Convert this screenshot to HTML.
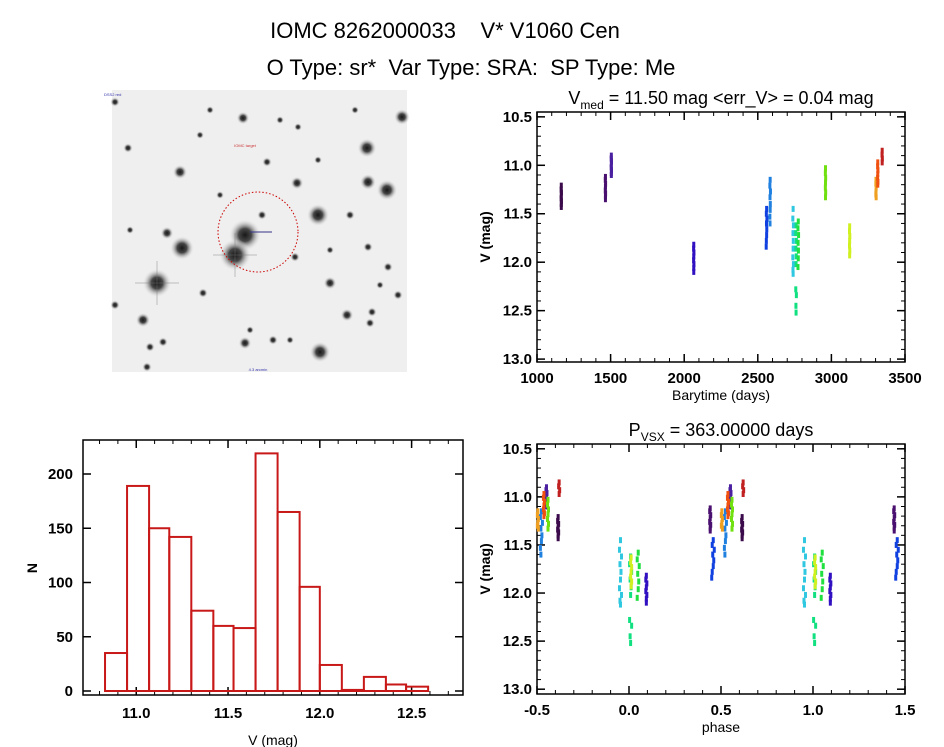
<!DOCTYPE html>
<html><head><meta charset="utf-8"><style>
html,body{margin:0;padding:0;background:#fff;}
svg{display:block;font-family:"Liberation Sans",sans-serif;}
</style></head><body>
<svg id="fig" width="944" height="747" viewBox="0 0 944 747" xmlns="http://www.w3.org/2000/svg">
<text x="445" y="38" font-size="22" text-anchor="middle" xml:space="preserve">IOMC 8262000033    V* V1060 Cen</text>
<text x="471" y="75" font-size="22" text-anchor="middle" xml:space="preserve">O Type: sr*  Var Type: SRA:  SP Type: Me</text>
<g id="sky">
<defs><radialGradient id="st"><stop offset="0" stop-color="#000"/><stop offset="0.4" stop-color="#333"/><stop offset="1" stop-color="#eee" stop-opacity="0"/></radialGradient></defs>
<rect x="112" y="90" width="295" height="282" fill="#efefef"/>
</g>
<g id="lc"></g>
<g id="ph"></g>
<g id="hist"></g>
</svg>
<script>
const groupColors=['#3a0a4a','#4a1070','#4a20a0','#3010c0','#1040e0','#2080e0','#30c8e0','#10e080','#20e040','#70e010','#d0f020','#f0a020','#f05010','#c02020'];
const obsTimes=[
[1165,1164,1166,1165,1164,1166,1165,1165],
[1465,1464,1466,1465,1464,1466,1465,1465],
[1505,1504,1506,1505,1504,1506,1505,1505],
[2065,2064,2066,2065,2064,2066,2065,2065],
[2560,2558,2562,2559,2561,2560,2558,2557],
[2584,2582,2586,2583,2585,2584,2582,2583],
[2740,2738,2742,2739,2741,2740,2738,2742,2739,2740],
[2760,2758,2762,2759,2761,2760,2758,2762,2759,2760],
[2775,2773,2777,2774,2776,2775,2773],
[2960,2959,2961,2960,2959,2961,2960],
[3124,3123,3125,3124,3123,3125,3124],
[3303,3302,3304,3303,3302,3304],
[3315,3314,3316,3315,3314,3316,3315],
[3345,3344,3346,3345]];
const obsMags=[
[11.21,11.25,11.28,11.31,11.34,11.37,11.40,11.43],
[11.12,11.15,11.19,11.22,11.26,11.29,11.32,11.35],
[10.90,10.93,10.96,10.99,11.02,11.05,11.08,11.10],
[11.82,11.86,11.90,11.94,11.98,12.02,12.06,12.10],
[11.45,11.50,11.55,11.60,11.66,11.72,11.78,11.84],
[11.15,11.21,11.27,11.33,11.40,11.46,11.53,11.60],
[11.45,11.55,11.62,11.70,11.78,11.86,11.95,12.02,12.08,12.12],
[11.62,11.70,11.78,11.86,11.94,12.02,12.28,12.34,12.45,12.52],
[11.58,11.65,11.72,11.80,11.88,11.96,12.05],
[11.03,11.08,11.13,11.18,11.23,11.28,11.33],
[11.63,11.68,11.73,11.78,11.83,11.88,11.93],
[11.15,11.19,11.23,11.27,11.30,11.33],
[10.97,11.01,11.05,11.09,11.13,11.17,11.20],
[10.85,10.89,10.93,10.97]];
const period=363.0, epoch=941.8;
const timeTicks=[1000,1500,2000,2500,3000,3500];
const magTicks=[10.5,11.0,11.5,12.0,12.5,13.0];
const phaseTicks=[-0.5,0.0,0.5,1.0,1.5];
const histEdges=[10.83,10.95,11.07,11.18,11.30,11.42,11.53,11.65,11.77,11.89,12.00,12.12,12.24,12.36,12.47,12.59];
const histCounts=[35,189,150,142,74,60,58,219,165,96,24,1,13,6,4];
const histXTicks=[11.0,11.5,12.0,12.5];
const histYTicks=[0,50,100,150,200];
const stars=[[115,102,3],[243,118,4],[402,117,5],[367,148,6],[128,148,3],[180,172,4.5],[297,183,4],[368,182,5],[387,190,6.5],[267,162,3],[318,215,7],[350,215,3],[262,215,3],[245,235,10],[235,255,10],[182,248,7.5],[167,233,4],[157,283,9],[295,257,3],[330,283,4],[388,267,3],[203,293,3],[143,320,4.5],[347,315,4],[372,312,3],[370,323,3],[150,347,3],[163,342,3],[245,343,4],[320,352,6.5],[147,367,3],[368,247,3],[398,295,3],[273,340,3],[115,305,3],[280,120,2.5],[298,127,2.5],[200,135,2.5],[318,160,2.5],[220,195,2.5],[330,250,2.5],[380,285,2.5],[250,330,2.5],[290,340,2.5],[130,230,2.5],[210,110,2.5],[355,110,2.5]];
const NS='http://www.w3.org/2000/svg';
function mk(tag,at,parent){const e=document.createElementNS(NS,tag);for(const k in at)e.setAttribute(k,at[k]);parent.appendChild(e);return e;}
const sky=document.getElementById('sky');
stars.forEach(s=>{const c=mk('circle',{cx:s[0],cy:s[1],r:s[2]*1.6,fill:'url(#st)',opacity:0.9},sky);

});
[[157,283],[235,255]].forEach(p=>{mk('line',{x1:p[0]-22,y1:p[1],x2:p[0]+22,y2:p[1],stroke:'#777','stroke-width':1,opacity:0.4},sky);mk('line',{x1:p[0],y1:p[1]-22,x2:p[0],y2:p[1]+22,stroke:'#777','stroke-width':1,opacity:0.4},sky);});
const circ=mk('circle',{cx:258,cy:232,r:40,fill:'none',stroke:'#c00','stroke-width':1,'stroke-dasharray':'1.5 2'},sky);


mk('line',{x1:250,y1:232,x2:272,y2:232,stroke:'#338','stroke-width':1},sky);
const lbl=mk('text',{x:245,y:147,'font-size':4,fill:'#c33','text-anchor':'middle'},sky);lbl.textContent='IOMC target';
const lbl2=mk('text',{x:104,y:96,'font-size':4,fill:'#33a'},sky);lbl2.textContent='DSS2 red';
const lbl3=mk('text',{x:258,y:371,'font-size':4,fill:'#33a','text-anchor':'middle'},sky);lbl3.textContent='4.3 arcmin';

function axes(g,box,xd,yd,xt,yt,xminor,yminor,xfmt,yfmt,xlabel,ylabel,ylabX){
  const sx=v=>box.l+(v-xd[0])/(xd[1]-xd[0])*(box.r-box.l);
  const sy=v=>box.t+(v-yd[0])/(yd[1]-yd[0])*(box.b-box.t);
  mk('rect',{x:box.l,y:box.t,width:box.r-box.l,height:box.b-box.t,fill:'none',stroke:'#000','stroke-width':1.5},g);
  xt.forEach(v=>{const x=sx(v);mk('line',{x1:x,y1:box.b,x2:x,y2:box.b-8,stroke:'#000','stroke-width':1.5},g);mk('line',{x1:x,y1:box.t,x2:x,y2:box.t+8,stroke:'#000','stroke-width':1.5},g);
    const t=mk('text',{x:x,y:box.b+21,'font-size':15,'text-anchor':'middle','font-weight':'bold'},g);t.textContent=xfmt(v);
    
    });
  xminor.forEach(v=>{const x=sx(v);mk('line',{x1:x,y1:box.b,x2:x,y2:box.b-4,stroke:'#000'},g);mk('line',{x1:x,y1:box.t,x2:x,y2:box.t+4,stroke:'#000'},g);});
  yt.forEach(v=>{const y=sy(v);mk('line',{x1:box.l,y1:y,x2:box.l+8,y2:y,stroke:'#000','stroke-width':1.5},g);mk('line',{x1:box.r,y1:y,x2:box.r-8,y2:y,stroke:'#000','stroke-width':1.5},g);
    const t=mk('text',{x:box.l-5,y:y+5,'font-size':15,'text-anchor':'end','font-weight':'bold'},g);t.textContent=yfmt(v);
    
    });
  yminor.forEach(v=>{const y=sy(v);mk('line',{x1:box.l,y1:y,x2:box.l+4,y2:y,stroke:'#000'},g);mk('line',{x1:box.r,y1:y,x2:box.r-4,y2:y,stroke:'#000'},g);});
  const xl=mk('text',{x:(box.l+box.r)/2,y:box.b+38,'font-size':14,'text-anchor':'middle'},g);xl.textContent=xlabel;
  
  
  const yl=mk('text',{x:ylabX,y:(box.t+box.b)/2,'font-size':14,'text-anchor':'middle','font-weight':'bold',transform:`rotate(-90 ${ylabX} ${(box.t+box.b)/2})`},g);yl.textContent=ylabel;
  
  
  return [sx,sy];
}
function range(a,b,s){const r=[];for(let v=a;v<=b+1e-9;v+=s)r.push(+v.toFixed(4));return r;}
const f1=v=>v.toFixed(1);
const lc=document.getElementById('lc');
const boxA={l:537,r:905,t:112,b:362};
const [ax,ay]=axes(lc,boxA,[1000,3500],[10.45,13.03],timeTicks,magTicks,range(1100,3400,100),range(10.5,13.0,0.1),v=>String(v),f1,'Barytime (days)','V (mag)',490);
const tA=mk('text',{x:721,y:104,'font-size':18,'text-anchor':'middle'},lc);
tA.innerHTML='V<tspan font-size="12" dy="5">med</tspan><tspan dy="-5"> = 11.50 mag &lt;err_V&gt; = 0.04 mag</tspan>';


obsTimes.forEach((ts,gi)=>ts.forEach((t,i)=>{const r=mk('rect',{x:ax(t)-1.5,y:ay(obsMags[gi][i])-3,width:3,height:6,fill:groupColors[gi]},lc);

}));
const ph=document.getElementById('ph');
const boxB={l:537,r:905,t:444,b:694};
const [px,py]=axes(ph,boxB,[-0.5,1.5],[10.45,13.05],phaseTicks,magTicks,range(-0.4,1.4,0.1),range(10.5,13.0,0.1),f1,f1,'phase','V (mag)',490);
const tB=mk('text',{x:721,y:436,'font-size':18,'text-anchor':'middle'},ph);
tB.innerHTML='P<tspan font-size="12" dy="5">VSX</tspan><tspan dy="-5"> = 363.00000 days</tspan>';


obsTimes.forEach((ts,gi)=>ts.forEach((t,i)=>{let p=((t-epoch)/period)%1;if(p<0)p+=1;
[p-1,p,p+1].forEach(q=>{if(q<-0.5||q>1.5)return;const r=mk('rect',{x:px(q)-1.5,y:py(obsMags[gi][i])-3,width:3,height:6,fill:groupColors[gi]},ph);

});}));
const hg=document.getElementById('hist');
const boxC={l:83,r:463,t:440,b:695};
const hx=v=>boxC.l+(v-10.71)/(12.78-10.71)*(boxC.r-boxC.l);
const hy=v=>691-v*1.085;
mk('rect',{x:boxC.l,y:boxC.t,width:boxC.r-boxC.l,height:boxC.b-boxC.t,fill:'none',stroke:'#000','stroke-width':1.5},hg);
histXTicks.forEach(v=>{const x=hx(v);mk('line',{x1:x,y1:boxC.b,x2:x,y2:boxC.b-8,stroke:'#000','stroke-width':1.5},hg);mk('line',{x1:x,y1:boxC.t,x2:x,y2:boxC.t+8,stroke:'#000','stroke-width':1.5},hg);
const t=mk('text',{x:x,y:boxC.b+23,'font-size':15,'text-anchor':'middle','font-weight':'bold'},hg);t.textContent=f1(v);

});
range(10.8,12.7,0.1).forEach(v=>{const x=hx(v);mk('line',{x1:x,y1:boxC.b,x2:x,y2:boxC.b-4,stroke:'#000'},hg);mk('line',{x1:x,y1:boxC.t,x2:x,y2:boxC.t+4,stroke:'#000'},hg);});
histYTicks.forEach(v=>{const y=hy(v);mk('line',{x1:boxC.l,y1:y,x2:boxC.l+8,y2:y,stroke:'#000','stroke-width':1.5},hg);mk('line',{x1:boxC.r,y1:y,x2:boxC.r-8,y2:y,stroke:'#000','stroke-width':1.5},hg);
const t=mk('text',{x:boxC.l-10,y:y+5,'font-size':15,'text-anchor':'end','font-weight':'bold'},hg);t.textContent=String(v);

});
const hxl=mk('text',{x:273,y:745,'font-size':14,'text-anchor':'middle'},hg);hxl.textContent='V (mag)';


const hyl=mk('text',{x:37,y:568,'font-size':14,'text-anchor':'middle','font-weight':'bold',transform:'rotate(-90 37 568)'},hg);hyl.textContent='N';


histCounts.forEach((c,i)=>{const x0=hx(histEdges[i]),x1=hx(histEdges[i+1]);
const r=mk('rect',{x:x0,y:hy(c),width:x1-x0,height:hy(0)-hy(c),fill:'none',stroke:'#c81818','stroke-width':2},hg);

});
</script>
</body></html>
